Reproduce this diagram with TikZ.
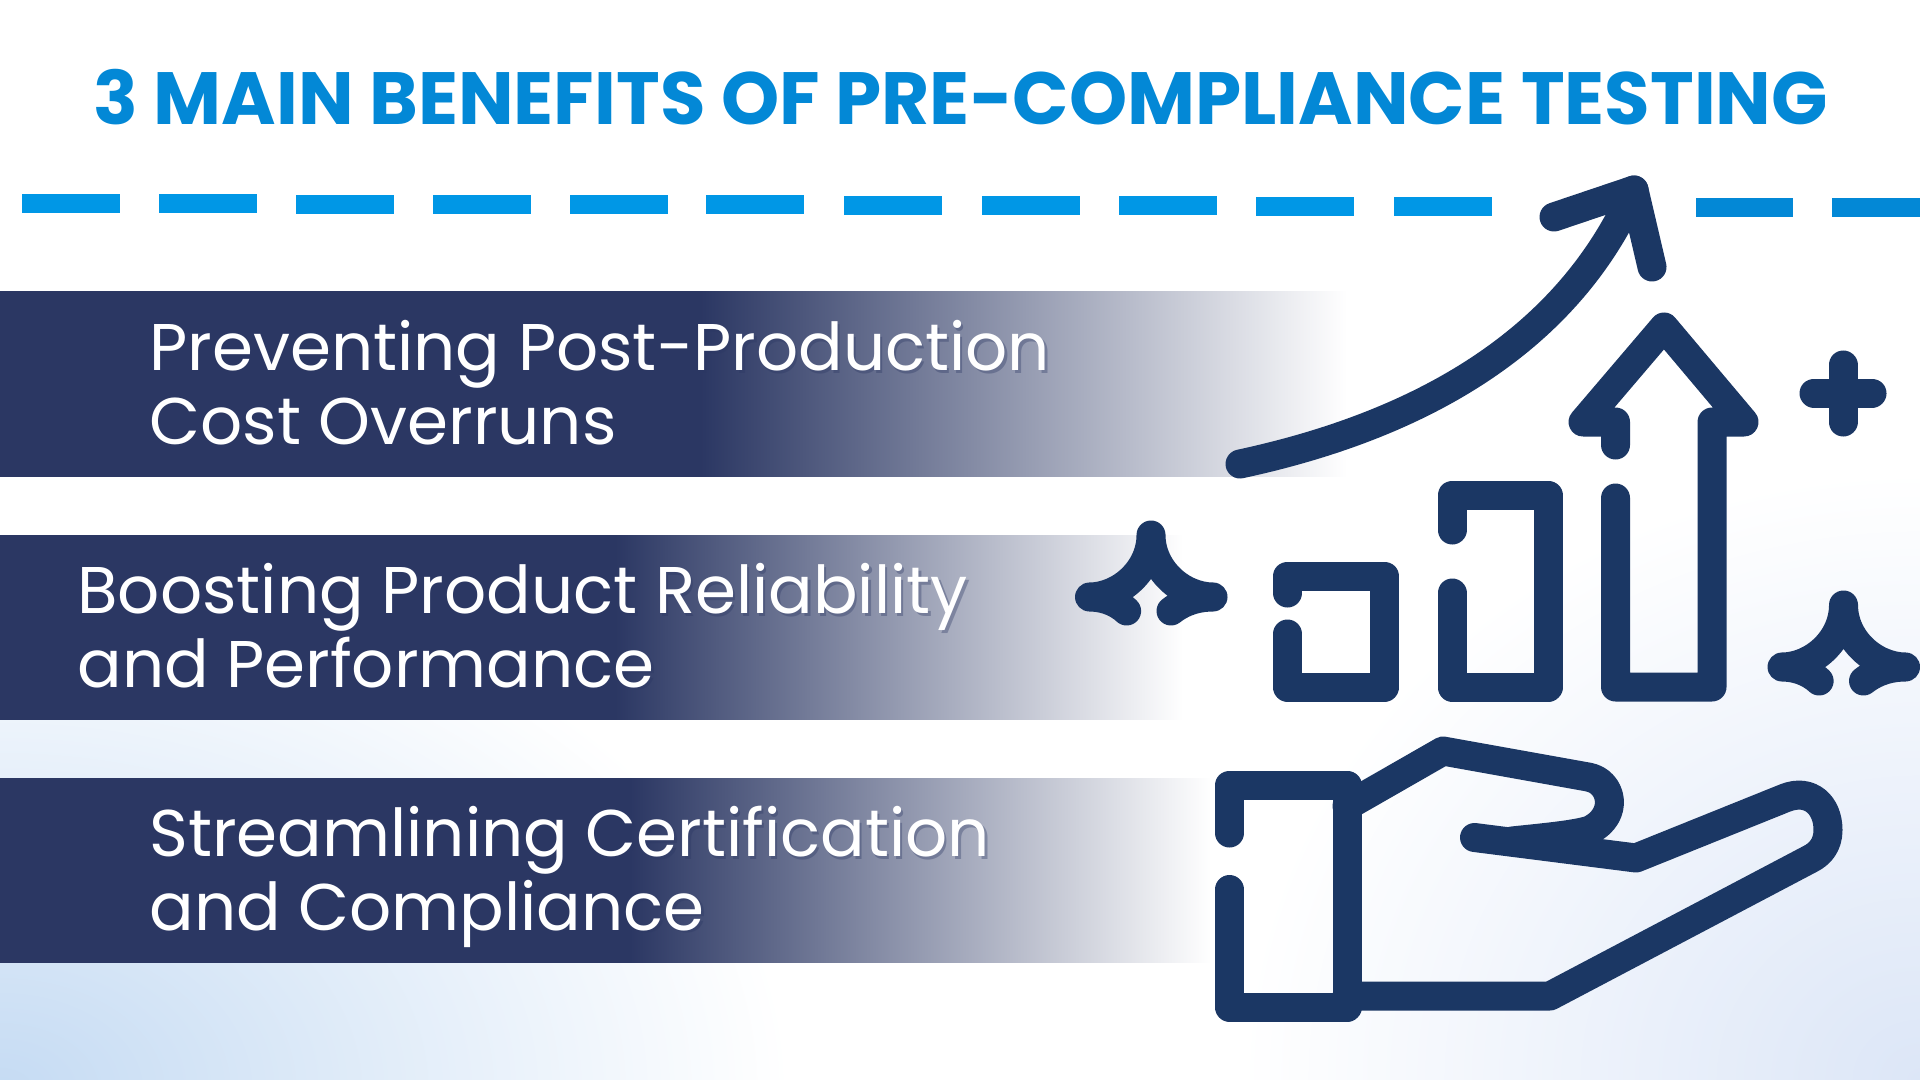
\documentclass[tikz,border=0pt]{standalone}
\usepackage{fontspec}
\setmainfont{Poppins}
\usepackage{tikz}
\usetikzlibrary{positioning}
\definecolor{bandnavy}{HTML}{2B3763}
\definecolor{iconnavy}{HTML}{1B3764}
\definecolor{titleblue}{HTML}{0388D6}
\definecolor{dashblue}{HTML}{0097E6}
\definecolor{dashdeep}{HTML}{0388D6}
\definecolor{glowleft}{HTML}{C5DBF3}
\definecolor{glowright}{HTML}{DCE6F7}
\pgfdeclarehorizontalshading{bandfade}{100bp}{color(0bp)=(bandnavy); color(51bp)=(bandnavy); color(75bp)=(white); color(100bp)=(white)}
\tikzset{icon/.style={draw=iconnavy,line width=14.5pt,line cap=round,line join=round}}
\tikzset{dashseg/.style={line width=9.5pt}}
\tikzset{bandtext/.style={anchor=base west,align=left,text=white,inner sep=0pt,font=\fontsize{33}{36.75}\selectfont}}
\tikzset{bandshadow/.style={bandtext,text=bandnavy,text opacity=0.35}}
\begin{document}
\begin{tikzpicture}[x=0.5pt,y=-0.5pt]
  \useasboundingbox (0,0) rectangle (1920,1080);
  \begin{scope}
    \clip (0,0) rectangle (1920,1080);
    \fill[white] (0,0) rectangle (1920,1080);
    \shade[inner color=glowleft,outer color=white] (0,1090) ellipse [x radius=790,y radius=540];
    \shade[inner color=glowright,outer color=white] (1920,1080) ellipse [x radius=680,y radius=610];
  \end{scope}
  \node(title)[anchor=base west,inner sep=0pt,text=titleblue,font=\fontsize{37}{44}\selectfont\bfseries] at (93,125) {3 MAIN BENEFITS OF PRE-COMPLIANCE TESTING};
  \foreach \dx in {22,159,296,433,570,706,844,982,1119,1256,1394}
    \draw[dashseg,draw=dashblue] (\dx,{203.5+\dx/480}) -- (\dx+98,{203.5+\dx/480});
  \foreach \dx/\dw in {1696/97,1832/88}
    \draw[dashseg,draw=dashdeep] (\dx,207.5) -- (\dx+\dw,207.5);
  \foreach \by/\bx in {292/1347,535/1183,778/1211}
    \shade[shading=bandfade] (0,\by) rectangle (\bx,\by+184);
  \foreach \tname/\tx/\ty/\ttext in {prevent/149/444/{Preventing Post-Production\\Cost Overruns},boost/77/687/{Boosting Product Reliability\\and Performance},stream/149/930/{Streamlining Certification\\and Compliance}} {
    \node(\tname shadow)[bandshadow] at (\tx+2.5,\ty+2.5) {\ttext};
    \node(\tname)[bandtext] at (\tx,\ty) {\ttext};
  }
  \draw[icon] (1240,464) .. controls (1370,436) and (1555,370) .. (1634,190);
  \draw[icon] (1554,217) -- (1634,190) -- (1652,267);
  \draw[icon] (1615.5,498) -- (1615.5,687) -- (1712,687) -- (1712,422) -- (1744,422) -- (1664,327) -- (1583,422) -- (1615.5,422) -- (1615.5,445);
  \draw[icon] (1452,530) -- (1452,495) -- (1548,495) -- (1548,687) -- (1452,687) -- (1452,593);
  \draw[icon] (1287.5,593) -- (1287.5,576) -- (1384.5,576) -- (1384.5,687) -- (1287.5,687) -- (1287.5,634);
  \draw[icon] (1814,393) -- (1872,393) (1843,365) -- (1843,422);
  \foreach \sx/\sy in {0/0,692.5/70}
    \draw[icon,shift={(\sx*0.5pt,-\sy*0.5pt)}] (1126.6,611) .. controls (1115,600) and (1100,597) .. (1089.5,597) .. controls (1120,597) and (1151,570) .. (1151,535) .. controls (1151,570) and (1182,597) .. (1213,597) .. controls (1200,597) and (1185,600) .. (1171,611);
  \draw[icon] (1229.5,833) -- (1229.5,785) -- (1347,785) -- (1347,1007) -- (1229.5,1007) -- (1229.5,889.5);
  \draw[icon] (1347,806) -- (1443,751) -- (1588,777) .. controls (1612,781) and (1620,815) .. (1590,830) .. controls (1575,835) and (1540,838) .. (1512,841);
  \draw[icon] (1474.5,837.5) -- (1636,858) -- (1785,798) .. controls (1810,788) and (1828,805) .. (1828,830) .. controls (1828,845) and (1820,854) .. (1810,859) -- (1550,996) -- (1347,996);
\end{tikzpicture}
\end{document}
